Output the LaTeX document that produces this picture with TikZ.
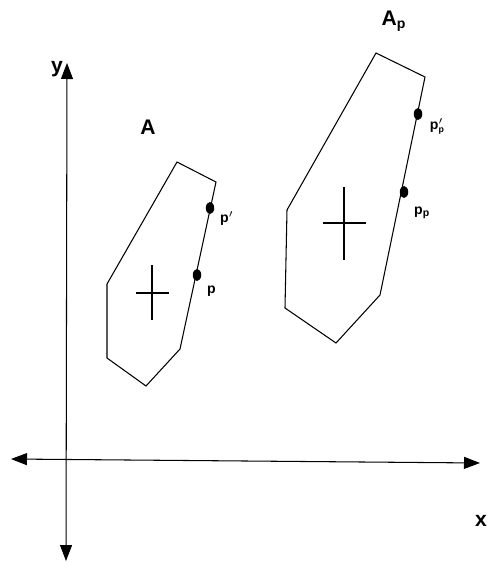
\documentclass[tikz,border=0pt]{standalone}
\usepackage{fontspec}
\setmainfont{Liberation Sans}
\usetikzlibrary{arrows.meta,positioning,shapes.geometric}

\begin{document}
\begin{tikzpicture}[x=0.02cm, y=-0.02cm,
    axisline/.style={{Triangle[length=0.32cm,width=0.24cm]}-{Triangle[length=0.32cm,width=0.24cm]}, line width=0.6pt},
    outline/.style={line width=0.6pt, line join=miter},
    crossline/.style={line width=0.6pt},
    dot/.style={ellipse, fill=black, inner sep=0pt, minimum width=0.17cm, minimum height=0.24cm},
    ptlabel/.style={font=\footnotesize\bfseries, inner sep=1pt},
    polylabel/.style={font=\large\bfseries, inner sep=1pt}
]
\useasboundingbox (0,0) rectangle (496,562);

% axes
\coordinate (ytop) at (67,63);
\coordinate (ybot) at (66,561);
\coordinate (xleft) at (11,459);
\coordinate (xright) at (480,463);
\draw[axisline] (ybot) -- (ytop);
\draw[axisline] (xleft) -- (xright);
\node[polylabel] (ylab) at (57,69) {y};
\node[polylabel] (xlab) at (481,521) {x};

% polygon A
\draw[outline] (177,162) -- (216,182) -- (180,349) -- (146,386) -- (107,358) -- (107,284) -- cycle;
\draw[crossline] (136,293) -- (169,293);
\draw[crossline] (152,265) -- (152,320);
\node[polylabel] (nA) at (148,127) {A};
\node[dot] (pA1) at (210,208) {};
\node[dot] (pA2) at (197,275) {};
\node[ptlabel, right=2pt of pA1, yshift=-6pt] (lA1) {p$'$};
\node[ptlabel, right=2pt of pA2, yshift=-9pt] (lA2) {p};

% polygon Ap
\draw[outline] (376,53) -- (425,77) -- (380,295) -- (336,343) -- (285,308) -- (287,210) -- cycle;
\draw[crossline] (323,223) -- (366,223);
\draw[crossline] (344,187) -- (344,260);
\node[polylabel] (nAp) at (394,21) {A\textsubscript{p}};
\node[dot] (pB1) at (418,114) {};
\node[dot] (pB2) at (404,192) {};
\node[ptlabel, right=3pt of pB1, yshift=-7pt] (lB1) {p$'_{\mbox{\tiny\bfseries p}}$};
\node[ptlabel, right=2pt of pB2, yshift=-12pt] (lB2) {p\textsubscript{p}};

\end{tikzpicture}
\end{document}
